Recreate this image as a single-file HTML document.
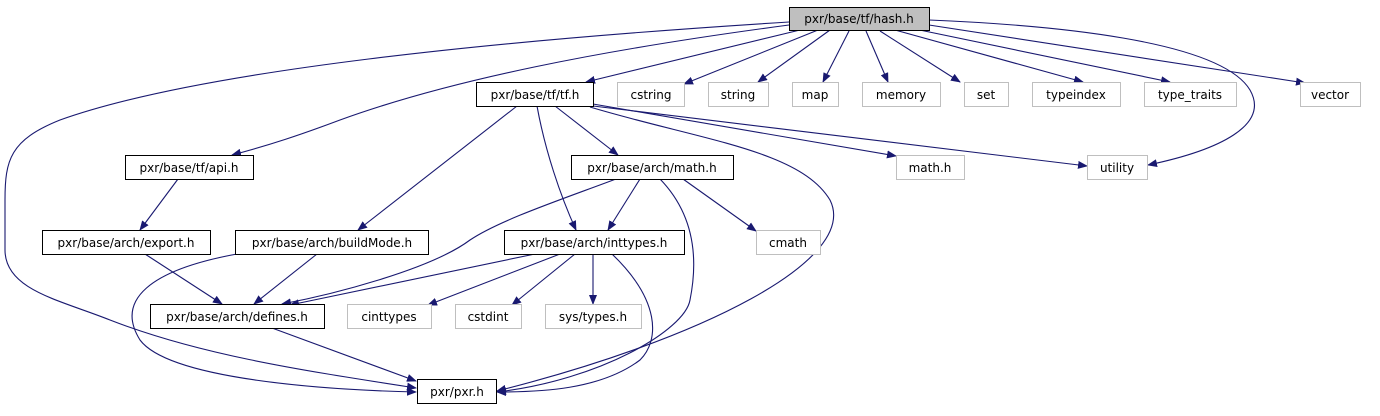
<!DOCTYPE html>
<html><head><meta charset="utf-8"><style>
html,body{margin:0;padding:0;background:#fff;}
svg text{font-family:"DejaVu Sans","Liberation Sans",sans-serif;font-size:12px;text-anchor:middle;}
</style></head><body>
<svg width="1380" height="411" viewBox="0 0 1380 411" xmlns="http://www.w3.org/2000/svg">
<defs><marker id="a" markerWidth="10" markerHeight="8" refX="9" refY="4" orient="auto" markerUnits="userSpaceOnUse"><path d="M0,0 L10,4 L0,8 z" fill="#191970"/></marker></defs>
<g fill="none" stroke="#191970" stroke-width="1.1" marker-end="url(#a)">
<!-- from hash.h -->
<path d="M789,22 C500,40 200,70 60,120 C10,140 5,160 5,200 L5,250 C5,290 60,300 110,320 C200,355 300,370 416,388"/>
<path d="M789,25 C600,50 450,80 340,120 C300,135 270,145 232,155"/>
<path d="M800,30 L586,82"/>
<path d="M818,30 L684,84"/>
<path d="M830,30 L758,82"/>
<path d="M849,31 L823,82"/>
<path d="M866,31 L888,82"/>
<path d="M880,31 L960,82"/>
<path d="M895,30 L1083,82"/>
<path d="M910,28 L1170,82"/>
<path d="M929,25 L1305,83"/>
<path d="M929,20 C1050,25 1220,40 1250,90 C1270,125 1220,150 1148,165"/>
<!-- from tf.h -->
<path d="M593,104 L896,156"/>
<path d="M593,106 L1087,166"/>
<path d="M555,106 L618,155"/>
<path d="M517,106 L358,230"/>
<path d="M537,106 C545,150 560,195 576,230"/>
<path d="M590,107 C700,140 800,150 830,200 C860,260 700,340 497,391"/>
<!-- api -->
<path d="M178,179 L140,230"/>
<!-- math.h arch -->
<path d="M640,179 L608,230"/>
<path d="M683,179 L756,231"/>
<path d="M616,179 C560,200 500,220 470,240 C430,270 330,295 282,304"/>
<path d="M660,179 C690,210 700,250 690,300 C685,330 600,380 497,392"/>
<!-- inttypes -->
<path d="M535,254 L290,305"/>
<path d="M560,254 L428,305"/>
<path d="M575,254 L512,305"/>
<path d="M593,254 L593,304"/>
<path d="M612,254 C660,300 660,340 640,360 C600,390 540,392 497,392"/>
<!-- export / buildMode -->
<path d="M145,254 L222,304"/>
<path d="M317,254 L254,304"/>
<path d="M237,254 C150,270 115,300 140,340 C170,380 330,390 416,392"/>
<!-- defines -->
<path d="M272,328 L416,381"/>
</g>
<g stroke-width="1">
<rect x="789.5" y="7.5" width="140" height="23" fill="#bfbfbf" stroke="#000"/>
<g fill="#fff" stroke="#000">
<rect x="476.5" y="82.5" width="117" height="24"/>
<rect x="125.5" y="155.5" width="128" height="24"/>
<rect x="571.5" y="155.5" width="162" height="24"/>
<rect x="42.5" y="230.5" width="168" height="24"/>
<rect x="235.5" y="230.5" width="193" height="24"/>
<rect x="504.5" y="230.5" width="180" height="24"/>
<rect x="150.5" y="304.5" width="174" height="24"/>
<rect x="417.5" y="379.5" width="79" height="24"/>
</g>
<g fill="#fff" stroke="#bfbfbf">
<rect x="617.5" y="82.5" width="67" height="24"/>
<rect x="708.5" y="82.5" width="60" height="24"/>
<rect x="792.5" y="82.5" width="46" height="24"/>
<rect x="862.5" y="82.5" width="78" height="24"/>
<rect x="964.5" y="82.5" width="44" height="24"/>
<rect x="1032.5" y="82.5" width="88" height="24"/>
<rect x="1144.5" y="82.5" width="92" height="24"/>
<rect x="1300.5" y="82.5" width="60" height="24"/>
<rect x="896.5" y="155.5" width="68" height="24"/>
<rect x="1087.5" y="155.5" width="60" height="24"/>
<rect x="756.5" y="230.5" width="64" height="24"/>
<rect x="347.5" y="304.5" width="84" height="24"/>
<rect x="455.5" y="304.5" width="66" height="24"/>
<rect x="545.5" y="304.5" width="96" height="24"/>
</g>
</g>
<g fill="#000">
<text x="859" y="23">pxr/base/tf/hash.h</text>
<text x="535" y="99">pxr/base/tf/tf.h</text>
<text x="651" y="99">cstring</text>
<text x="738" y="99">string</text>
<text x="815" y="99">map</text>
<text x="901" y="99">memory</text>
<text x="986" y="99">set</text>
<text x="1076" y="99">typeindex</text>
<text x="1190" y="99">type_traits</text>
<text x="1330" y="99">vector</text>
<text x="189" y="172">pxr/base/tf/api.h</text>
<text x="652" y="172">pxr/base/arch/math.h</text>
<text x="930" y="172">math.h</text>
<text x="1117" y="172">utility</text>
<text x="126" y="247">pxr/base/arch/export.h</text>
<text x="332" y="247">pxr/base/arch/buildMode.h</text>
<text x="594" y="247">pxr/base/arch/inttypes.h</text>
<text x="788" y="247">cmath</text>
<text x="237" y="321">pxr/base/arch/defines.h</text>
<text x="389" y="321">cinttypes</text>
<text x="488" y="321">cstdint</text>
<text x="593" y="321">sys/types.h</text>
<text x="457" y="396">pxr/pxr.h</text>
</g>
</svg>
</body></html>
